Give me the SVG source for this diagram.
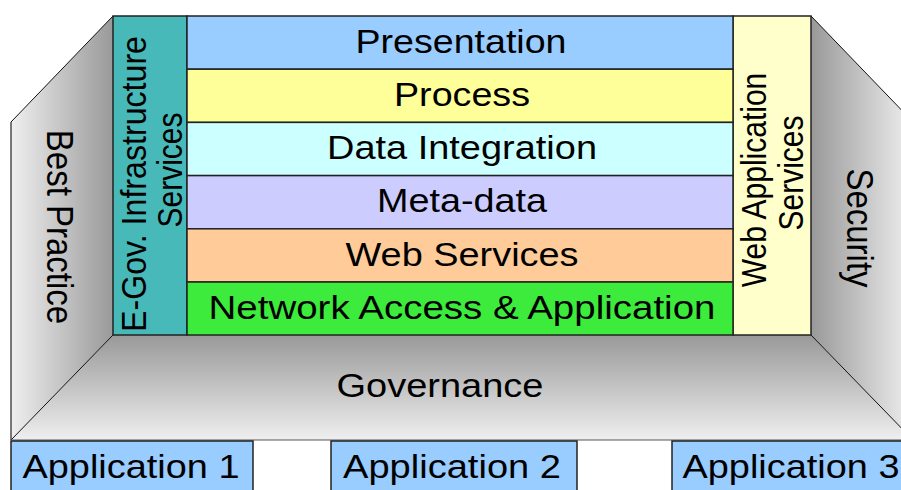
<svg xmlns="http://www.w3.org/2000/svg" width="901" height="490" viewBox="0 0 901 490">
<style>
text{font-family:"Liberation Sans",Arial,sans-serif;font-size:33px;fill:#000;text-anchor:middle}
.v{font-size:30px}
.box{stroke:#222;stroke-width:1.5}
.edge{fill:none;stroke:#111;stroke-width:1}
</style>
<defs>
<linearGradient id="gl" x1="0" y1="0" x2="1" y2="0"><stop offset="0" stop-color="#efefef"/><stop offset="1" stop-color="#999"/></linearGradient>
<linearGradient id="gr" x1="0" y1="0" x2="1" y2="0"><stop offset="0" stop-color="#999"/><stop offset="1" stop-color="#efefef"/></linearGradient>
<linearGradient id="gf" x1="0" y1="0" x2="0" y2="1"><stop offset="0" stop-color="#999"/><stop offset="1" stop-color="#efefef"/></linearGradient>
</defs>
<rect width="901" height="490" fill="#fff"/>
<g id="walls">
<polygon id="leftwall" points="11,122 113,16 113,335 11,440" fill="url(#gl)"/>
<polygon id="rightwall" points="811,16 913,122 913,440 811,335" fill="url(#gr)"/>
<polygon id="floor" points="113,335 811,335 913,440 11,440" fill="url(#gf)"/>
<line class="edge" x1="11" y1="122" x2="113" y2="16"/>
<line class="edge" x1="11" y1="440" x2="113" y2="335"/>
<line class="edge" x1="811" y1="16" x2="913" y2="122"/>
<line class="edge" x1="811" y1="335" x2="913" y2="440"/>
<line x1="11" y1="122" x2="11" y2="440" stroke="#222" stroke-width="1.2"/>
<line x1="11" y1="440" x2="901" y2="440" stroke="#555" stroke-width="1.2"/>
</g>
<g id="best-practice"><text transform="translate(47,227) scale(1.14,1) rotate(90)">Best Practice</text></g>
<g id="security"><text transform="translate(847,228) scale(1.14,1) rotate(90)">Security</text></g>
<g id="governance"><text x="440" y="397" textLength="207" lengthAdjust="spacingAndGlyphs">Governance</text></g>
<g id="egov">
<rect class="box" x="113" y="16" width="74" height="319" fill="#48b9b9"/>
<text class="v" transform="translate(146,184) scale(1.14,1) rotate(-90)" textLength="296" lengthAdjust="spacingAndGlyphs">E-Gov. Infrastructure</text>
<text class="v" transform="translate(182,170) scale(1.14,1) rotate(-90)">Services</text>
</g>
<g id="webapp">
<rect class="box" x="733" y="16" width="78" height="319" fill="#ffffcc"/>
<text class="v" transform="translate(766,180) scale(1.14,1) rotate(-90)">Web Application</text>
<text class="v" transform="translate(803,173) scale(1.14,1) rotate(-90)">Services</text>
</g>
<g id="presentation"><rect class="box" x="187" y="16" width="546" height="53.2" fill="#99ccff"/><text x="461" y="53" textLength="211" lengthAdjust="spacingAndGlyphs">Presentation</text></g>
<g id="process"><rect class="box" x="187" y="69.2" width="546" height="53.2" fill="#ffff99"/><text x="462" y="106" textLength="136" lengthAdjust="spacingAndGlyphs">Process</text></g>
<g id="data-integration"><rect class="box" x="187" y="122.4" width="546" height="53.2" fill="#ccffff"/><text x="462" y="159" textLength="270" lengthAdjust="spacingAndGlyphs">Data Integration</text></g>
<g id="meta-data"><rect class="box" x="187" y="175.6" width="546" height="53.2" fill="#ccccff"/><text x="462" y="212" textLength="170" lengthAdjust="spacingAndGlyphs">Meta-data</text></g>
<g id="web-services"><rect class="box" x="187" y="228.8" width="546" height="53.2" fill="#ffcc99"/><text x="462" y="266" textLength="233" lengthAdjust="spacingAndGlyphs">Web Services</text></g>
<g id="network"><rect class="box" x="187" y="282" width="546" height="53" fill="#3deb3d"/><text x="462" y="319" textLength="507" lengthAdjust="spacingAndGlyphs">Network Access &amp; Application</text></g>
<g id="app1"><rect class="box" x="11" y="441" width="242" height="60" fill="#99ccff"/><text x="131" y="478" textLength="217" lengthAdjust="spacingAndGlyphs">Application 1</text></g>
<g id="app2"><rect class="box" x="331" y="441" width="246" height="60" fill="#99ccff"/><text x="452" y="478" textLength="218" lengthAdjust="spacingAndGlyphs">Application 2</text></g>
<g id="app3"><rect class="box" x="672" y="441" width="240" height="60" fill="#99ccff"/><text x="791" y="478" textLength="217" lengthAdjust="spacingAndGlyphs">Application 3</text></g>
</svg>
